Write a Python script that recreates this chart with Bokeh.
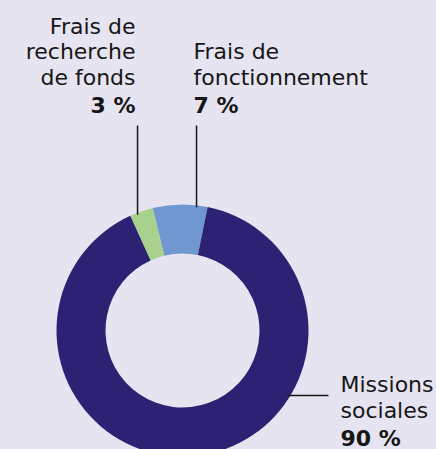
import math
from bokeh.plotting import figure
from bokeh.models import Range1d, ColumnDataSource
from bokeh.core.properties import value
from bokeh.embed import file_html
from bokeh.resources import INLINE

# ---- data ----
categories = ["Frais de fonctionnement", "Frais de recherche de fonds", "Missions sociales"]
values = [7, 3, 90]
pct_labels = ["7 %", "3 %", "90 %"]
name_lines = [["Frais de", "fonctionnement"], ["Frais de", "recherche", "de fonds"], ["Missions", "sociales"]]
colors = ["#7097cf", "#a7d18c", "#2c2273"]

BG = "#e6e4f1"
INK = "#161616"
W, H = 436, 449

p = figure(width=W, height=H, output_backend="svg", toolbar_location=None,
           x_range=Range1d(0, W), y_range=Range1d(0, H), min_border=0)
p.axis.visible = False
p.grid.visible = False
p.outline_line_color = None
p.background_fill_color = BG
p.border_fill_color = BG

cx, cy = 182, 119
R_out, R_in = 126, 77
start = math.radians(78.5)

total = sum(values)
starts, ends = [], []
a = start
for v in values:
    starts.append(a)
    a += 2 * math.pi * v / total
    ends.append(a)

src = ColumnDataSource(dict(cat=categories, val=values, start=starts, end=ends, color=colors))
p.annular_wedge(x=cx, y=cy, inner_radius=R_in, outer_radius=R_out, start_angle="start",
                end_angle="end", direction="anticlock", fill_color="color", line_color=None,
                source=src)

# leader lines
def ring_pt(deg):
    t = math.radians(deg)
    return cx + R_out * math.cos(t), cy + R_out * math.sin(t)

top_y = H - 125
xr, yr = ring_pt(83.6)
xl, yl = ring_pt(110.9)
p.segment(x0=[xr, xl], y0=[yr - 2, yl - 2], x1=[xr, xl], y1=[top_y, top_y], line_color=INK, line_width=1.5)
dy = -65
xm = cx + math.sqrt(R_out**2 - dy**2)
p.segment(x0=[xm - 2], y0=[cy + dy], x1=[xm + 38], y1=[cy + dy], line_color=INK, line_width=1.5)

FS = "22px"
FONT = value("DejaVu Sans")
SHIFT = 8.5

def label(x, last_base, lines, pct, align):
    n = len(lines)
    ys = [last_base + SHIFT + 25.5 * (n - 1 - i) for i in range(n)]
    p.text(x=[x] * n, y=ys, text=lines, text_font=FONT, text_font_size=FS,
           text_color=INK, text_align=align, text_baseline="alphabetic")
    p.text(x=[x], y=[last_base + SHIFT - 28], text=[pct], text_font=FONT, text_font_size=FS,
           text_font_style="bold", text_color=INK, text_align=align, text_baseline="alphabetic")

# baselines in figure coords (figure y = H - page y)
label(193, H - 85, name_lines[0], pct_labels[0], "left")
label(135, H - 85, name_lines[1], pct_labels[1], "right")
label(340, H - 418, name_lines[2], pct_labels[2], "left")

html = file_html(p, INLINE)
html = html.replace("<body>", '<body style="margin:0;overflow:hidden;background:%s">' % BG, 1)
html = html.replace("<html", '<html style="background:%s"' % BG, 1)
open("out.html", "w").write(html)
